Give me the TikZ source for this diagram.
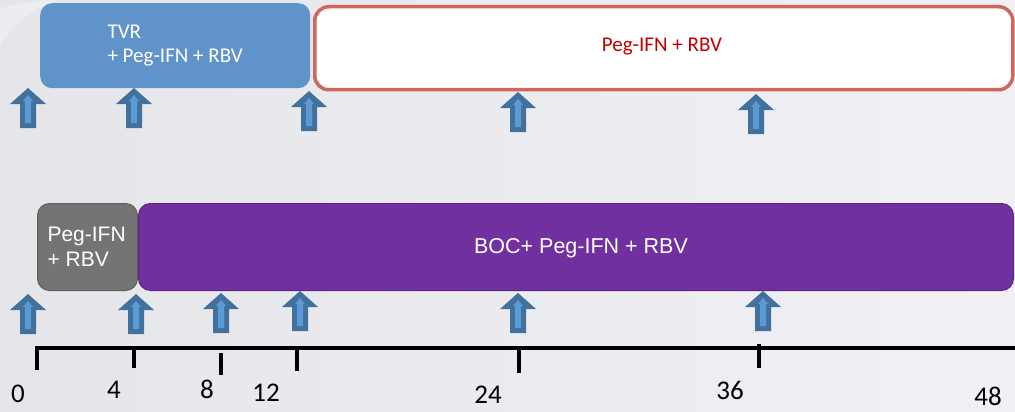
\documentclass[tikz,border=0pt]{standalone}
\usepackage{fontspec}
\setmainfont{Carlito}
\newfontfamily\arialf{Liberation Sans}
\definecolor{bgA}{HTML}{E5E6EA}
\definecolor{bgB}{HTML}{F1F1F5}
\definecolor{tvrblue}{HTML}{5F93C9}
\definecolor{redline}{HTML}{D0665F}
\definecolor{redtext}{HTML}{C00000}
\definecolor{grayfill}{HTML}{747474}
\definecolor{grayline}{HTML}{5E5E5E}
\definecolor{purplefill}{HTML}{7030A0}
\definecolor{purpleline}{HTML}{5E2488}
\definecolor{arrdark}{HTML}{41719C}
\definecolor{arrlight}{HTML}{5B9BD5}
\tikzset{
  phase/.style={rounded corners=12pt, inner sep=0pt, anchor=north west},
  toptext/.style={font=\fontsize{21}{24}\selectfont, text=white, align=left, anchor=west},
  bottext/.style={font=\arialf\fontsize{21}{25}\selectfont, text=white, align=left},
  axislbl/.style={font=\fontsize{27}{30}\selectfont, text=black, inner sep=0pt},
  axisline/.style={line width=4pt, black},
  tickline/.style={line width=3.5pt, black},
  uparr/.pic={
    \fill[arrdark] (0,0) -- (18,16) -- (8,16) -- (8,40) -- (-8,40) -- (-8,16) -- (-18,16) -- cycle;
    \fill[arrlight] (0,7) -- (5,13) -- (3,13) -- (3,35) -- (-3,35) -- (-3,13) -- (-5,13) -- cycle;
  }
}
\begin{document}
\begin{tikzpicture}[x=1pt,y=-1pt]
\useasboundingbox (0,0) rectangle (1015,412);
\shade[left color=bgA, right color=bgB] (0,0) rectangle (1015,412);
\fill[white, opacity=0.3] (0,8) .. controls (15,5) and (30,2) .. (45,0) -- (60,0) .. controls (30,10) and (12,25) .. (0,45) -- cycle;

% top row
\node[phase, fill=tvrblue, minimum width=270pt, minimum height=85pt] (tvr) at (40,3) {};
\node[toptext] (tvrtxt) at (104,46) {TVR\\+ Peg-IFN + RBV};
\node[phase, draw=redline, line width=3.5pt, fill=white, rounded corners=14pt, minimum width=698pt, minimum height=83pt] (pr) at (313,5) {};
\node[font=\fontsize{21}{24}\selectfont, text=redtext] (prtxt) at (662,47) {Peg-IFN + RBV};

% bottom row
\node[phase, fill=grayfill, draw=grayline, line width=1pt, minimum width=100pt, minimum height=87pt] (pg) at (37,203) {};
\node[bottext, anchor=west] (pgtxt) at (44,247) {Peg-IFN\\+ RBV};
\node[phase, fill=purplefill, draw=purpleline, line width=1pt, minimum width=875pt, minimum height=87pt] (boc) at (138,203) {};
\node[bottext, font=\arialf\fontsize{21.5}{25}\selectfont] (boctxt) at (581,248) {BOC+ Peg-IFN + RBV};

% arrows top
\pic at (28,88) {uparr};
\pic at (134,88) {uparr};
\pic at (309,91) {uparr};
\pic at (518,92) {uparr};
\pic at (756,94) {uparr};
% arrows bottom
\pic at (28,294) {uparr};
\pic at (136,294) {uparr};
\pic at (221,293) {uparr};
\pic at (300,291) {uparr};
\pic at (518,293) {uparr};
\pic at (763,291) {uparr};

% axis
\coordinate (a0) at (35,348);
\coordinate (a1) at (1015,348);
\draw[axisline] (a0) -- (a1);
\coordinate (t0a) at (37,346); \coordinate (t0b) at (37,370);
\coordinate (t4a) at (134,346); \coordinate (t4b) at (134,368);
\coordinate (t8a) at (221,353); \coordinate (t8b) at (221,375);
\coordinate (t12a) at (297,346); \coordinate (t12b) at (297,371);
\coordinate (t24a) at (519,346); \coordinate (t24b) at (519,373);
\coordinate (t36a) at (759,344); \coordinate (t36b) at (759,368);
\draw[tickline] (t0a) -- (t0b);
\draw[tickline] (t4a) -- (t4b);
\draw[tickline] (t8a) -- (t8b);
\draw[tickline] (t12a) -- (t12b);
\draw[tickline] (t24a) -- (t24b);
\draw[tickline] (t36a) -- (t36b);

\node[axislbl] (l0) at (18,394) {0};
\node[axislbl] (l4) at (114,390) {4};
\node[axislbl] (l8) at (207,389) {8};
\node[axislbl] (l12) at (266,393) {12};
\node[axislbl] (l24) at (488,395) {24};
\node[axislbl] (l36) at (730,390) {36};
\node[axislbl] (l48) at (988,396) {48};
\end{tikzpicture}
\end{document}
